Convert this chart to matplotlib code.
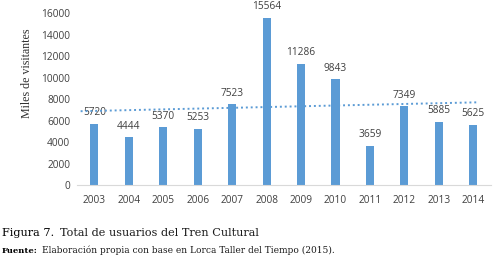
import matplotlib
matplotlib.use("Agg")
import matplotlib.pyplot as plt
import numpy as np

years = ["2003", "2004", "2005", "2006", "2007", "2008", "2009", "2010", "2011", "2012", "2013", "2014"]
visitors = [5720, 4444, 5370, 5253, 7523, 15564, 11286, 9843, 3659, 7349, 5885, 5625]
yticks = [0, 2000, 4000, 6000, 8000, 10000, 12000, 14000, 16000]

W, H = 498, 260
fig = plt.figure(figsize=(W / 100, H / 100), dpi=100)
ax = fig.add_axes([0.155, 0.288, 0.83, 0.662])

x = np.arange(len(years))
color = "#5B9BD5"
ax.bar(x, visitors, width=0.235, color=color, zorder=2)
for xi, v in zip(x, visitors):
    ax.text(xi, v + 500, str(v), ha="center", va="bottom", fontsize=7.3,
            color="#404040", family="Open Sans")

coef = np.polyfit(x, visitors, 1)
tx = np.array([-0.4, 11.1])
ax.plot(tx, np.polyval(coef, tx), linestyle=(0, (1, 1.5)), color=color, lw=1.4, zorder=3)

ax.set_xlim(-0.5, 11.5)
ax.set_ylim(0, 16000)
ax.set_xticks(x)
ax.set_xticklabels(years, fontsize=7.3, color="#404040", family="Open Sans")
ax.set_yticks(yticks)
ax.set_yticklabels([str(t) for t in yticks], fontsize=7.3, color="#404040", family="Open Sans")
for s in ["top", "right", "left"]:
    ax.spines[s].set_visible(False)
ax.spines["bottom"].set_color("#D9D9D9")
ax.tick_params(axis="x", length=0, pad=7)
ax.tick_params(axis="y", length=0, pad=5)
ax.set_ylabel("Miles de visitantes", fontsize=8.6, family="Liberation Serif", color="#303030")
ax.yaxis.set_label_coords(-0.107, 0.651)

renderer = fig.canvas.get_renderer()


def fit_text(xpx0, xpx1, ybase, s, size, **kw):
    t = fig.text(xpx0 / W, 1 - ybase / H, s, fontsize=size, ha="left", va="baseline", **kw)
    w = t.get_window_extent(renderer).width
    t.set_fontsize(size * (xpx1 - xpx0) / w)
    return t


serif = "DejaVu Serif"
fit_text(60, 259, 236, "Total de usuarios del Tren Cultural", 8.5, family=serif, color="#1a1a1a")
fit_text(2, 54, 236, "Figura 7.", 8.5, family=serif, color="#000000")
fit_text(42, 334, 253, "Elaboración propia con base en Lorca Taller del Tiempo (2015).", 6,
         family=serif, color="#1a1a1a")
fit_text(2, 38, 253, "Fuente:", 6, family=serif, weight="semibold", color="#000000")

fig.savefig("out.png", dpi=100)
